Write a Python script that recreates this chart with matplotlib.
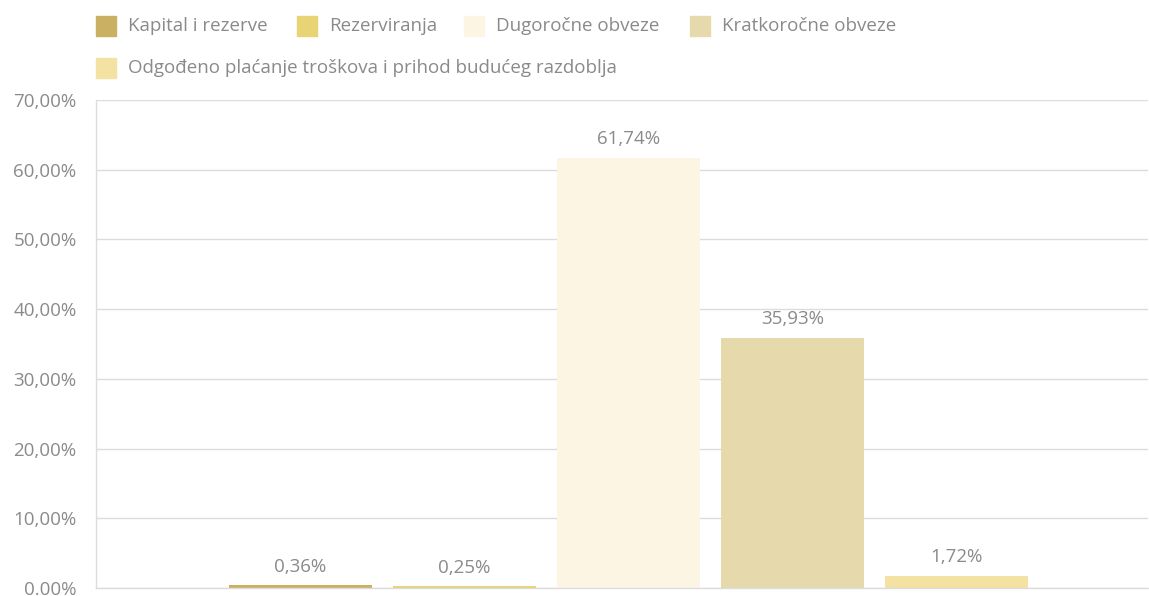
import numpy as np
import matplotlib.pyplot as plt
from matplotlib.patches import Rectangle

# struktura pasive, udio u ukupnoj pasivi (%)
categories = ['Kapital i rezerve', 'Rezerviranja', 'Dugoročne obveze',
              'Kratkoročne obveze',
              'Odgođeno plaćanje troškova i prihod budućeg razdoblja']
values = [0.36, 0.25, 61.74, 35.93, 1.72]
value_labels = ['0,36%', '0,25%', '61,74%', '35,93%', '1,72%']
colors = ['#C9B063', '#E9D475', '#FCF5E3', '#E6D9AC', '#F3E2A2']
yticks = [0, 10, 20, 30, 40, 50, 60, 70]
ytick_labels = ['0.00%', '10,00%', '20,00%', '30,00%', '40,00%', '50,00%',
                '60,00%', '70,00%']

TXT = '#8A8A8A'
GRID = '#DCDCDC'
FS = 13.5
plt.rcParams['font.family'] = ['Open Sans', 'DejaVu Sans']

W, H = 1149, 596
fig = plt.figure(figsize=(W / 100, H / 100), dpi=100)
ax = fig.add_axes([96 / W, (H - 588) / H, (1148 - 96) / W, (588 - 100) / H])

x = np.arange(len(values))
bars = ax.bar(x, values, width=0.872, color=colors, zorder=2)
for b, lab in zip(bars, value_labels):
    ax.annotate(lab, (b.get_x() + b.get_width() / 2, b.get_height()),
                xytext=(0, 7), textcoords='offset points',
                ha='center', va='bottom', fontsize=FS, color=TXT)

ax.set_xlim(-1.247, 5.168)
ax.set_ylim(0, 70)
ax.set_yticks(yticks)
ax.set_yticklabels(ytick_labels)
ax.set_xticks([])
ax.tick_params(axis='y', length=0, pad=14, labelsize=FS, labelcolor=TXT)
ax.yaxis.grid(True, color=GRID, linewidth=1, zorder=0)
for side in ['top', 'right']:
    ax.spines[side].set_visible(False)
for side in ['left', 'bottom']:
    ax.spines[side].set_color(GRID)
    ax.spines[side].set_linewidth(1)

# legenda: četiri stavke u prvom redu, peta u drugom
legend_pos = [(96, 26), (297, 26), (464, 26), (690, 26), (96, 68)]
for (px, py), name, c in zip(legend_pos, categories, colors):
    fig.patches.append(Rectangle((px / W, (H - py - 10) / H), 20 / W, 20 / H,
                                 transform=fig.transFigure, color=c))
    fig.text((px + 32) / W, (H - py) / H, name, ha='left', va='center',
             fontsize=FS, color=TXT)

fig.savefig('out.png', dpi=100)
